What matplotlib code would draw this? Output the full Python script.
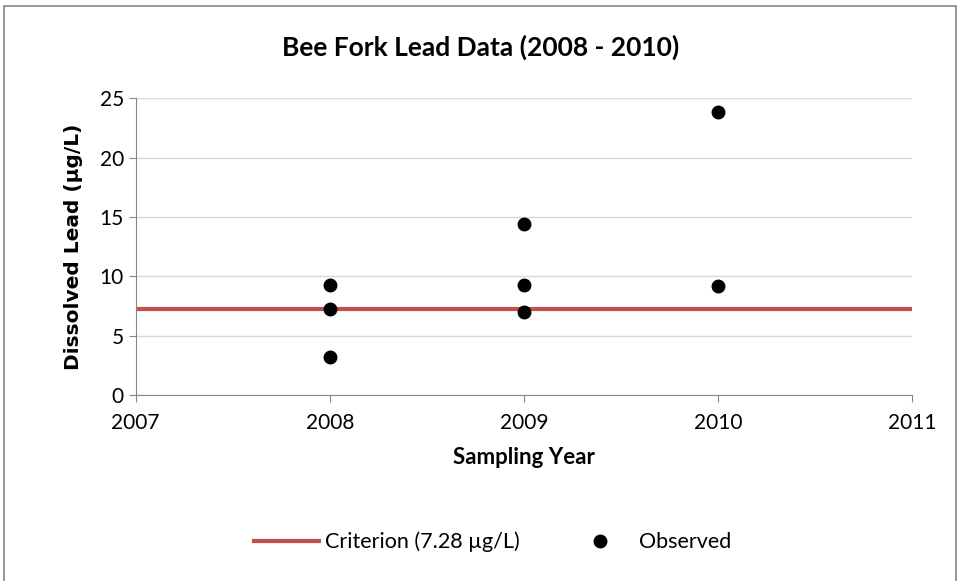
import matplotlib.pyplot as plt
from matplotlib.patches import Rectangle

plt.rcParams['font.family'] = ['Lato', 'DejaVu Sans']

years_2008 = [2008, 2008, 2008]
lead_2008 = [9.24, 7.24, 3.17]
years_2009 = [2009, 2009, 2009]
lead_2009 = [14.4, 9.27, 6.98]
years_2010 = [2010, 2010]
lead_2010 = [23.85, 9.21]
criterion = 7.28
x_ticks = [2007, 2008, 2009, 2010, 2011]
y_ticks = [0, 5, 10, 15, 20, 25]

years = years_2008 + years_2009 + years_2010
lead = lead_2008 + lead_2009 + lead_2010

fig = plt.figure(figsize=(9.62, 5.81), dpi=100)
ax = fig.add_axes([0.141, 0.320, 0.807, 0.511])

# criterion line across the whole x range
ax.plot([x_ticks[0], x_ticks[-1]], [criterion, criterion], color='#C0504D', lw=3,
        label='Criterion (7.28 µg/L)', zorder=2)
ax.plot(years, lead, 'o', color='black', ms=9, label='Observed', zorder=3)

ax.set_xlim(x_ticks[0], x_ticks[-1])
ax.set_ylim(y_ticks[0], y_ticks[-1])
ax.set_xticks(x_ticks)
ax.set_yticks(y_ticks)
ax.grid(axis='y', color='#D9D9D9', lw=1)
ax.set_axisbelow(True)
for s in ['top', 'right']:
    ax.spines[s].set_visible(False)
for s in ['left', 'bottom']:
    ax.spines[s].set_color('#868686')
ax.tick_params(axis='both', colors='#868686', labelcolor='black', labelsize=15, length=5)
ax.tick_params(axis='x', pad=8)

fig.text(0.5, 0.918, 'Bee Fork Lead Data (2008 - 2010)', fontsize=19, fontweight='bold',
         ha='center', va='center')
ax.set_xlabel('Sampling Year', fontsize=16, fontweight='bold', labelpad=10)
ax.set_ylabel('Dissolved Lead (µg/L)', fontsize=14.5, fontweight='bold', labelpad=12,
              family='DejaVu Sans')

fig.legend(loc='center', bbox_to_anchor=(0.512, 0.067), ncol=2, frameon=False,
           fontsize=15.5, handlelength=3.0, columnspacing=2.2, handletextpad=0.3)

fig.patches.append(Rectangle((0.004, -0.01), 0.99, 1.0, transform=fig.transFigure,
                             fill=False, ec='#868686', lw=1.2))

fig.savefig('out.png', dpi=100)
